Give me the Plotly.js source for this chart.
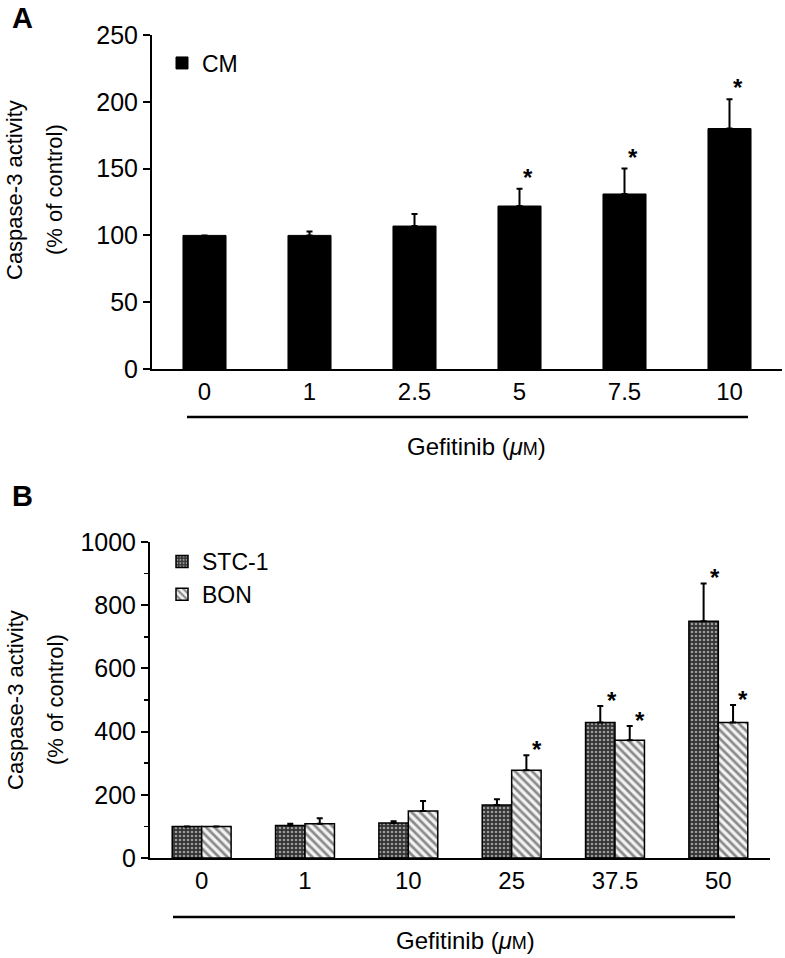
<!DOCTYPE html>
<html>
<head>
<meta charset="utf-8">
<script src="https://cdn.plot.ly/plotly-3.0.1.min.js"></script>
<style>
  html, body { margin: 0; padding: 0; background: #fff; }
  #chart { width: 785px; height: 958px; }
</style>
</head>
<body>
<div id="chart"></div>
<script>
// panel A: CM
const dosesA = ['0', '1', '2.5', '5', '7.5', '10'];
const cmMean = [100, 100, 107, 122, 131, 180];
const cmErr = [0, 3, 9, 13, 19, 22];
const cmSig = ['', '', '', '*', '*', '*'];

// panel B: STC-1 and BON
const dosesB = ['0', '1', '10', '25', '37.5', '50'];
const stcMean = [100, 103, 111, 168, 429, 749];
const stcErr = [0, 5, 5, 18, 52, 120];
const stcSig = ['', '', '', '', '*', '*'];
const bonMean = [100, 108, 149, 278, 373, 429];
const bonErr = [0, 18, 31, 47, 45, 55];
const bonSig = ['', '', '', '*', '*', '*'];

const FONT = 'Liberation Sans, Arial, Helvetica, sans-serif';
const W = 785;
const H = 958;
const px = (v) => v / W;
const py = (v) => 1 - v / H;

const upErr = (arr) => ({
  type: 'data',
  symmetric: false,
  array: arr,
  arrayminus: arr.map(() => 0),
  color: '#000',
  thickness: 2,
  width: 3,
});

const cm = {
  x: dosesA,
  y: cmMean,
  name: 'CM',
  type: 'bar',
  width: 0.41,
  xaxis: 'x',
  yaxis: 'y',
  legend: 'legend',
  marker: { color: '#000', line: { color: '#000', width: 1 } },
  error_y: upErr(cmErr),
};

const stc = {
  x: dosesB,
  y: stcMean,
  name: 'STC-1',
  type: 'bar',
  xaxis: 'x2',
  yaxis: 'y2',
  legend: 'legend2',
  marker: {
    color: '#3a3a3a',
    line: { color: '#000', width: 1.5 },
    pattern: { shape: '.', bgcolor: '#333', fgcolor: '#9a9a9a', size: 4, solidity: 0.35 },
  },
  error_y: upErr(stcErr),
};

const bon = {
  x: dosesB,
  y: bonMean,
  name: 'BON',
  type: 'bar',
  xaxis: 'x2',
  yaxis: 'y2',
  legend: 'legend2',
  marker: {
    color: '#f2f2f2',
    line: { color: '#000', width: 1.5 },
    pattern: { shape: '\\', bgcolor: '#f2f2f2', fgcolor: '#8a8a8a', size: 6, solidity: 0.45 },
  },
  error_y: upErr(bonErr),
};

const data = [cm, stc, bon];

// звездочки над столбцами (x по номеру категории)
const stars = [];
const addStars = (ys, errs, sig, xref, yref, xshift, yshift) => {
  sig.forEach((s, i) => {
    if (!s) return;
    stars.push({
      x: i, y: ys[i] + errs[i], xref, yref,
      text: '<b>' + s + '</b>', showarrow: false,
      xshift, yshift, yanchor: 'bottom',
      font: { family: FONT, size: 24, color: '#000' },
    });
  });
};
addStars(cmMean, cmErr, cmSig, 'x', 'y', 8, -4);
addStars(stcMean, stcErr, stcSig, 'x2', 'y2', -3, -10);
addStars(bonMean, bonErr, bonSig, 'x2', 'y2', 25, -10);

const txt = (text, x, y, size, extra) => Object.assign({
  text, x, y, xref: 'paper', yref: 'paper', showarrow: false,
  xanchor: 'center', yanchor: 'middle',
  font: { family: FONT, size, color: '#000' },
}, extra || {});

const gef = 'Gefitinib (<i>μ</i><span style="font-size:18px">M</span>)';

const annotations = [
  ...stars,
  txt('<b>A</b>', px(22), py(18), 29),
  txt('<b>B</b>', px(22), py(496), 29),
  txt('Caspase-3 activity', px(15), py(190), 22, { textangle: -90 }),
  txt('(% of control)', px(55), py(190), 22, { textangle: -90 }),
  txt('Caspase-3 activity', px(15), py(700), 22, { textangle: -90 }),
  txt('(% of control)', px(55), py(700), 22, { textangle: -90 }),
  txt(gef, px(476), py(446), 24),
  txt(gef, px(465), py(940), 24),
];

const shapes = [
  { type: 'line', xref: 'paper', yref: 'paper', x0: px(187), x1: px(748), y0: py(417), y1: py(417), line: { color: '#000', width: 2.5 } },
  { type: 'line', xref: 'paper', yref: 'paper', x0: px(173), x1: px(735), y0: py(917), y1: py(917), line: { color: '#000', width: 2.5 } },
];

const xBase = {
  type: 'category',
  range: [-0.5, 5.5],
  showline: true,
  linecolor: '#000',
  linewidth: 2,
  ticks: '',
  showgrid: false,
  zeroline: false,
  tickfont: { family: FONT, size: 24, color: '#000' },
  fixedrange: true,
};

const yBase = {
  showline: true,
  linecolor: '#000',
  linewidth: 2,
  ticks: 'outside',
  ticklen: 7,
  tickwidth: 2,
  tickcolor: '#000',
  showgrid: false,
  zeroline: false,
  tickfont: { family: FONT, size: 25, color: '#000' },
  fixedrange: true,
};

const legendBase = {
  xanchor: 'left',
  yanchor: 'middle',
  bgcolor: 'rgba(0,0,0,0)',
  borderwidth: 0,
  itemwidth: 30,
  tracegroupgap: 0,
  font: { family: FONT, size: 23, color: '#000' },
};

const layout = {
  width: W,
  height: H,
  margin: { l: 0, r: 0, t: 0, b: 0 },
  paper_bgcolor: '#fff',
  plot_bgcolor: '#fff',
  barmode: 'group',
  bargap: 0.43,
  bargroupgap: 0,
  showlegend: true,
  xaxis: Object.assign({}, xBase, { domain: [px(152), px(782)], anchor: 'y' }),
  yaxis: Object.assign({}, yBase, { domain: [py(369), py(35)], anchor: 'x', range: [0, 250], dtick: 50 }),
  xaxis2: Object.assign({}, xBase, { domain: [px(150), px(770)], anchor: 'y2' }),
  yaxis2: Object.assign({}, yBase, {
    domain: [py(858), py(542)], anchor: 'x2', range: [0, 1000], dtick: 200,
    minor: { dtick: 100, ticks: 'outside', ticklen: 4, tickwidth: 1.5, tickcolor: '#000', showgrid: false },
  }),
  legend: Object.assign({}, legendBase, { x: px(162), y: py(63) }),
  legend2: Object.assign({}, legendBase, { x: px(162), y: py(578) }),
  annotations,
  shapes,
};

const config = { staticPlot: true, responsive: false };

Plotly.newPlot(document.getElementById('chart'), data, layout, config);
</script>
</body>
</html>
